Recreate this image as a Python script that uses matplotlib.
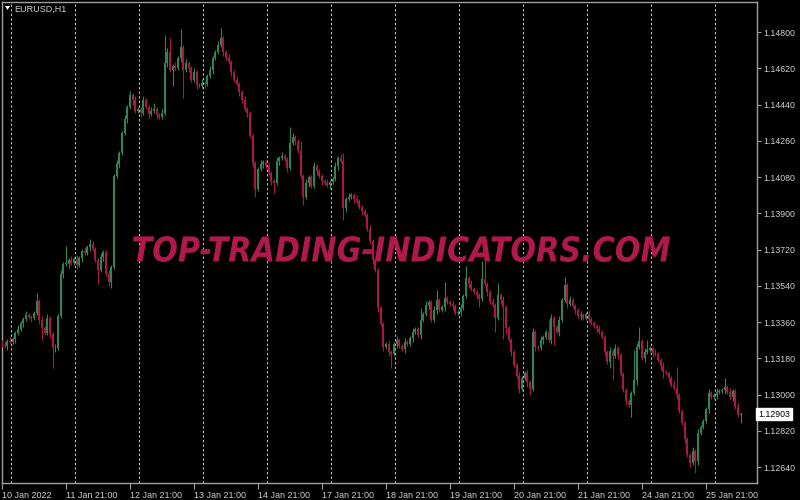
import numpy as np
import matplotlib
matplotlib.use("Agg")
import matplotlib.pyplot as plt
from matplotlib.textpath import TextPath
from matplotlib.patches import PathPatch, Polygon
from matplotlib.font_manager import FontProperties
from matplotlib.transforms import Affine2D, IdentityTransform, blended_transform_factory

symbol = "EURUSD,H1"
watermark = "TOP-TRADING-INDICATORS.COM"
first_open = 1.1326

# hourly closes, one list row per trading day (21:00 -> 20:00)
closes = [
    1.13245, 1.1324, 1.13265, 1.1326, 1.13275, 1.13305, 1.13325, 1.13355, 1.13375, 1.13395, 1.13385, 1.1338,
    1.13405, 1.13465, 1.1337, 1.1333, 1.13305, 1.1338, 1.133, 1.1323, 1.1323, 1.1339, 1.136, 1.1365,
    1.1365, 1.1367, 1.13655, 1.13675, 1.13645, 1.1368, 1.13715, 1.13705, 1.13735, 1.1375, 1.13725, 1.1367,
    1.1362, 1.13685, 1.1371, 1.136, 1.1356, 1.13635, 1.14085, 1.14145, 1.142, 1.143, 1.1437, 1.1443,
    1.14485, 1.1446, 1.1441, 1.1442, 1.144, 1.1446, 1.1443, 1.14395, 1.1441, 1.1442, 1.1439, 1.1438,
    1.144, 1.14645, 1.147, 1.1461, 1.1463, 1.1462, 1.1467, 1.14725, 1.1461, 1.14645, 1.1462, 1.1456,
    1.146, 1.14535, 1.1453, 1.14545, 1.1454, 1.1458, 1.1461, 1.1467, 1.147, 1.14735, 1.1477, 1.147,
    1.1467, 1.1465, 1.146, 1.1456, 1.1454, 1.145, 1.1446, 1.1442, 1.144, 1.14285, 1.1415, 1.1402,
    1.1412, 1.14145, 1.14155, 1.14135, 1.141, 1.1406, 1.1405, 1.1416, 1.14175, 1.14185, 1.1417, 1.14125,
    1.1425, 1.1428, 1.1426, 1.1421, 1.14085, 1.1398, 1.1405, 1.1408, 1.14035, 1.14135, 1.1411, 1.14085,
    1.1406, 1.1405, 1.1404, 1.14055, 1.1407, 1.14135, 1.14175, 1.1416, 1.13925, 1.1397, 1.1398, 1.1399,
    1.1397, 1.1396, 1.1393, 1.1391, 1.1389, 1.1382, 1.1376, 1.1367, 1.1362, 1.1343, 1.1335, 1.13235,
    1.1325, 1.1321, 1.132, 1.1325, 1.1327, 1.1324, 1.13225, 1.1326, 1.1325, 1.1328, 1.1331, 1.13325,
    1.13295, 1.1337, 1.134, 1.13445, 1.1346, 1.1337, 1.1342, 1.1347, 1.1342, 1.13435, 1.1348, 1.1346,
    1.1345, 1.1344, 1.13405, 1.1341, 1.1343, 1.1349, 1.1358, 1.1355, 1.13525, 1.1351, 1.13495, 1.13475,
    1.13575, 1.1355, 1.1351, 1.1346, 1.13445, 1.1338, 1.13495, 1.1347, 1.13435, 1.1333, 1.1327, 1.1321,
    1.13145, 1.1309, 1.1303, 1.1308, 1.13105, 1.1306, 1.1303, 1.1331, 1.13235, 1.1323, 1.1327, 1.13285,
    1.1331, 1.1327, 1.1338, 1.13335, 1.1331, 1.1337, 1.1347, 1.13545, 1.1345, 1.1347, 1.1344, 1.1342,
    1.1339, 1.13395, 1.1338, 1.134, 1.13375, 1.13355, 1.1334, 1.13325, 1.1331, 1.13285, 1.1321, 1.1316,
    1.13215, 1.1319, 1.1323, 1.13195, 1.131, 1.13025, 1.1297, 1.1295, 1.1301, 1.1307, 1.13235, 1.13265,
    1.1318, 1.1321, 1.1322, 1.1323, 1.13205, 1.132, 1.1317, 1.1314, 1.1311, 1.13105, 1.1308, 1.1305,
    1.13035, 1.13, 1.1292, 1.1286, 1.1278, 1.127, 1.1266, 1.1272, 1.1267, 1.1281, 1.1284, 1.1287,
    1.1293, 1.1301, 1.1299, 1.13, 1.13015, 1.1302, 1.13025, 1.1304, 1.13015, 1.1299, 1.1302, 1.1294,
    1.129, 1.12903,
]

# wick lengths above / below the body, in pips
upper_wick_pips = [
    1, 2, 1, 2, 1, 1, 2, 1, 1, 2, 1, 1, 1, 4, 1, 2, 1, 2, 1, 1, 2, 1, 2, 1,
    9, 1, 2, 1, 2, 1, 1, 2, 1, 2, 1, 1, 1, 2, 1, 1, 2, 1, 1, 2, 1, 1, 2, 1,
    2, 1, 2, 1, 1, 2, 1, 1, 2, 3, 1, 1, 2, 14, 2, 7, 1, 2, 1, 9, 1, 2, 1, 1,
    2, 1, 1, 2, 1, 1, 2, 1, 1, 2, 5, 1, 1, 2, 1, 1, 2, 1, 1, 2, 1, 1, 1, 1,
    1, 2, 1, 1, 2, 1, 1, 2, 1, 2, 1, 1, 8, 2, 1, 1, 5, 1, 2, 1, 1, 2, 1, 1,
    1, 1, 2, 1, 1, 2, 1, 2, 4, 1, 2, 1, 1, 2, 1, 1, 1, 1, 2, 1, 1, 1, 1, 1,
    1, 2, 1, 1, 2, 1, 1, 2, 1, 1, 2, 1, 1, 6, 1, 2, 1, 1, 2, 5, 1, 1, 8, 1,
    1, 2, 1, 1, 2, 1, 6, 1, 2, 1, 1, 1, 9, 10, 1, 1, 2, 1, 6, 1, 2, 1, 1, 1,
    1, 1, 2, 1, 1, 2, 1, 2, 1, 1, 2, 1, 1, 6, 2, 1, 1, 2, 1, 4, 1, 2, 1, 1,
    1, 2, 1, 1, 2, 1, 1, 1, 2, 1, 1, 1, 2, 1, 2, 1, 1, 1, 1, 1, 1, 15, 2, 7,
    1, 2, 5, 1, 1, 2, 1, 1, 2, 1, 1, 1, 2, 10, 1, 1, 1, 1, 1, 2, 1, 2, 1, 1,
    1, 2, 1, 1, 2, 1, 1, 4, 1, 2, 1, 1, 2, 1,
]
lower_wick_pips = [
    1, 1, 2, 1, 1, 2, 1, 1, 2, 1, 1, 2, 1, 1, 2, 6, 1, 1, 2, 10, 2, 1, 1, 2,
    1, 2, 1, 1, 2, 1, 2, 1, 1, 2, 1, 1, 7, 1, 2, 1, 2, 3, 1, 1, 2, 1, 1, 2,
    1, 2, 1, 1, 2, 1, 1, 2, 1, 1, 2, 1, 1, 1, 2, 1, 8, 1, 1, 2, 14, 1, 2, 1,
    1, 2, 1, 1, 2, 1, 1, 2, 1, 1, 1, 2, 1, 1, 2, 1, 1, 2, 1, 1, 2, 1, 2, 4,
    1, 1, 2, 1, 1, 2, 5, 1, 2, 1, 1, 2, 1, 1, 2, 1, 1, 4, 1, 2, 1, 1, 2, 1,
    2, 1, 1, 2, 1, 1, 2, 1, 6, 2, 1, 1, 2, 1, 1, 2, 1, 1, 1, 2, 1, 2, 1, 2,
    1, 2, 7, 1, 2, 1, 1, 2, 1, 1, 2, 1, 1, 2, 1, 1, 2, 1, 1, 2, 1, 1, 2, 1,
    1, 2, 1, 1, 2, 1, 1, 2, 1, 1, 2, 4, 1, 1, 2, 1, 1, 7, 1, 2, 16, 3, 1, 2,
    1, 1, 2, 1, 1, 2, 3, 1, 2, 1, 1, 2, 1, 1, 2, 9, 1, 2, 1, 1, 2, 1, 1, 2,
    1, 2, 1, 1, 2, 1, 1, 2, 1, 1, 2, 1, 3, 12, 1, 2, 1, 1, 2, 1, 6, 1, 2, 1,
    1, 2, 1, 1, 2, 1, 1, 2, 3, 1, 2, 1, 1, 2, 1, 1, 2, 1, 2, 1, 6, 2, 1, 1,
    1, 2, 1, 1, 2, 1, 1, 2, 1, 1, 2, 1, 1, 4,
]

x_tick_labels = ["10 Jan 2022", "11 Jan 21:00", "12 Jan 21:00", "13 Jan 21:00", "14 Jan 21:00",
                 "17 Jan 21:00", "18 Jan 21:00", "19 Jan 21:00", "20 Jan 21:00", "21 Jan 21:00",
                 "24 Jan 21:00", "25 Jan 21:00"]
price_ticks = [1.12640, 1.12820, 1.13000, 1.13180, 1.13360, 1.13540, 1.13720,
               1.13900, 1.14080, 1.14260, 1.14440, 1.14620, 1.14800]
last_price = 1.12903

BARS_PER_DAY = 24
PIP = 0.0001
GREEN = "#2e8656"
RED = "#ab1843"
GRID = "#c0c0c0"
AXIS = "#a0a0a0"
TXT = "#cfcfcf"
FONT = "Liberation Sans"

closes = np.array(closes)
n = len(closes)
opens = np.r_[first_open, closes[:-1]]          # each hourly bar opens at the previous close
highs = np.maximum(opens, closes) + np.array(upper_wick_pips) * PIP
lows = np.minimum(opens, closes) - np.array(lower_wick_pips) * PIP
idx = np.arange(n)
up = closes >= opens
colors = np.where(up, GREEN, RED)

fig = plt.figure(figsize=(8, 5), dpi=100, facecolor="black")
W, H = 800, 500
ax = fig.add_axes([2 / W, 17 / H, 755 / W, 481 / H], facecolor="black")

# day separators
for k in range(len(x_tick_labels)):
    ax.axvline(3.4 + BARS_PER_DAY * k, color=GRID, lw=0.75, ls=(0, (2.2, 2.2)), zorder=1)

ax.vlines(idx, lows, highs, colors=colors, lw=0.8, zorder=3)
body_h = np.maximum(np.abs(closes - opens), 0.00003)
ax.bar(idx, body_h, bottom=np.minimum(opens, closes), width=0.72, color=colors,
       linewidth=0, zorder=4)

ax.set_xlim(0, 755 / (64 / 24))
ax.set_ylim(1.12561, 1.14949)

for s in ax.spines.values():
    s.set_color(AXIS)
    s.set_linewidth(1)

ax.yaxis.tick_right()
ax.set_yticks(price_ticks)
ax.set_yticklabels([f"{p:.5f}" for p in price_ticks], fontsize=6.3, family=FONT, color=TXT)
ax.tick_params(axis="y", direction="out", length=3, width=0.8, color=AXIS, pad=1.5)

ax.set_xticks([BARS_PER_DAY * k for k in range(len(x_tick_labels))])
ax.set_xticklabels(x_tick_labels, fontsize=6.5, family=FONT, color=TXT, ha="left")
ax.tick_params(axis="x", direction="out", length=4, width=0.8, color=AXIS, pad=1.5)

# current price label
tr = blended_transform_factory(ax.transAxes, ax.transData)
ax.text(1.0015, last_price, f"{last_price:.5f}", transform=tr, fontsize=6.3, family=FONT,
        color="black", va="center", ha="left", zorder=20, clip_on=False,
        bbox=dict(boxstyle="square,pad=0.2", fc="white", ec="white"))

# symbol caption
fig.text(14 / W, 1 - 9 / H, symbol, fontsize=6.5, family=FONT, color=TXT, va="center", ha="left")
fig.add_artist(Polygon([[5, H - 6], [10, H - 6], [7.5, H - 10]], closed=True, fc="white",
                       ec="none", transform=IdentityTransform()))

# watermark
fp = FontProperties(family="DejaVu Sans", weight="bold", style="italic")
tp = TextPath((0, 0), watermark, size=40, prop=fp)
bb = tp.get_extents()
tform = (Affine2D().translate(-bb.x0, -bb.y0)
         .scale(537 / bb.width, 26 / bb.height)
         .translate(133, H - 262))
fig.add_artist(PathPatch(tform.transform_path(tp), fc="#b0184e", ec="none",
                         transform=IdentityTransform(), zorder=10))

fig.savefig("out.png", dpi=100, facecolor="black")
